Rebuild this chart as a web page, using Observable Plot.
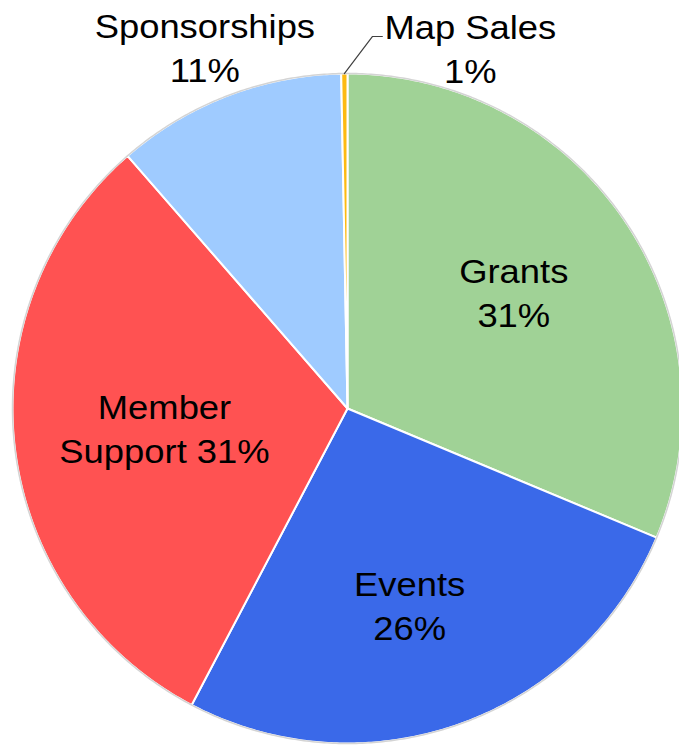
<!DOCTYPE html>
<html>
<head>
<meta charset="utf-8">
<script src="https://cdn.jsdelivr.net/npm/d3@7"></script>
<script src="https://cdn.jsdelivr.net/npm/@observablehq/plot@0.6"></script>
<style>
  html, body { margin: 0; padding: 0; background: #ffffff; }
  #chart svg { display: block; }
</style>
</head>
<body>
<div id="chart"></div>
<script>
// ---- data ----
const categories = ["Grants", "Events", "Member Support", "Sponsorships", "Map Sales"];
const shares = [31.3, 26.4, 30.9, 11.1, 0.3];
const labelTexts = ["Grants\n31%", "Events\n26%", "Member\nSupport 31%", "Sponsorships\n11%", "Map Sales\n1%"];
const sliceColors = ["#a0d296", "#3a69e9", "#ff5252", "#9fcbff", "#fdba12"];

// ---- layout ----
const W = 679, H = 745;
const CX = 347, CY = 408, R = 335; // pixels
const labelRadius = [0.6, 0.6, 0.55, 1.16, null];
const labelDx = [-1, -6, 0, -3, 0];   // px nudges
const labelDy = [-6, 6, -3, 0, 0];

const pie = d3.pie().sort(null).value(d => d)(shares);
const pt = (a, r) => ({x: Math.sin(a) * r, y: Math.cos(a) * r});

// slice polygons
const polys = [];
pie.forEach((p, i) => {
  const name = categories[i];
  polys.push({name, ...pt(0, 0)});
  const n = Math.max(2, Math.ceil((p.endAngle - p.startAngle) / (Math.PI / 360)));
  for (let k = 0; k <= n; k++) {
    const a = p.startAngle + (p.endAngle - p.startAngle) * k / n;
    polys.push({name, ...pt(a, 1)});
  }
  polys.push({name, ...pt(0, 0)});
});

// outer ring
const ring = d3.range(0, 721).map(k => pt(k / 720 * 2 * Math.PI, 1));

// labels
const labels = [];
pie.forEach((p, i) => {
  const mid = (p.startAngle + p.endAngle) / 2;
  if (labelRadius[i] != null) {
    const q = pt(mid, labelRadius[i]);
    labels.push({text: labelTexts[i], x: q.x + labelDx[i] / R, y: q.y - labelDy[i] / R});
  }
});

// leader for the tiny slice
const tiny = pie[4];
const tMid = (tiny.startAngle + tiny.endAngle) / 2;
const edge = pt(tMid, 1);
const elbow = {x: edge.x + 28 / R, y: edge.y + 37 / R};
const end = {x: elbow.x + 10 / R, y: elbow.y};
const leader = [edge, elbow, end];
labels.push({text: labelTexts[4], x: end.x + 88 / R, y: end.y - 10 / R});

const chart = Plot.plot({
  width: W,
  height: H,
  margin: 0,
  x: {domain: [-CX / R, (W - CX) / R], range: [0, W], axis: null},
  y: {domain: [-(H - CY) / R, CY / R], range: [H, 0], axis: null},
  color: {domain: categories, range: sliceColors},
  style: {fontFamily: "'Liberation Sans', Arial, sans-serif", background: "#ffffff"},
  marks: [
    Plot.line(polys, {x: "x", y: "y", z: "name", fill: "name", stroke: "#ffffff", strokeWidth: 2, strokeLinejoin: "round", curve: "linear"}),
    Plot.line(ring, {x: "x", y: "y", stroke: "#d4d4d4", strokeWidth: 1.5}),
    Plot.line(leader, {x: "x", y: "y", stroke: "#404040", strokeWidth: 1.2}),
    Plot.text(labels, {x: "x", y: "y", text: "text", fontSize: 34, lineHeight: 1.3, fill: "#000000", textAnchor: "middle", className: "pie-label"})
  ]
});
// the source font is slightly wider than Liberation Sans: stretch horizontally
chart.querySelectorAll("g.pie-label text").forEach(t => {
  const tr = t.getAttribute("transform") || "";
  t.setAttribute("transform", tr + " scale(1.07,1)");
});
document.getElementById("chart").appendChild(chart);
</script>
</body>
</html>
